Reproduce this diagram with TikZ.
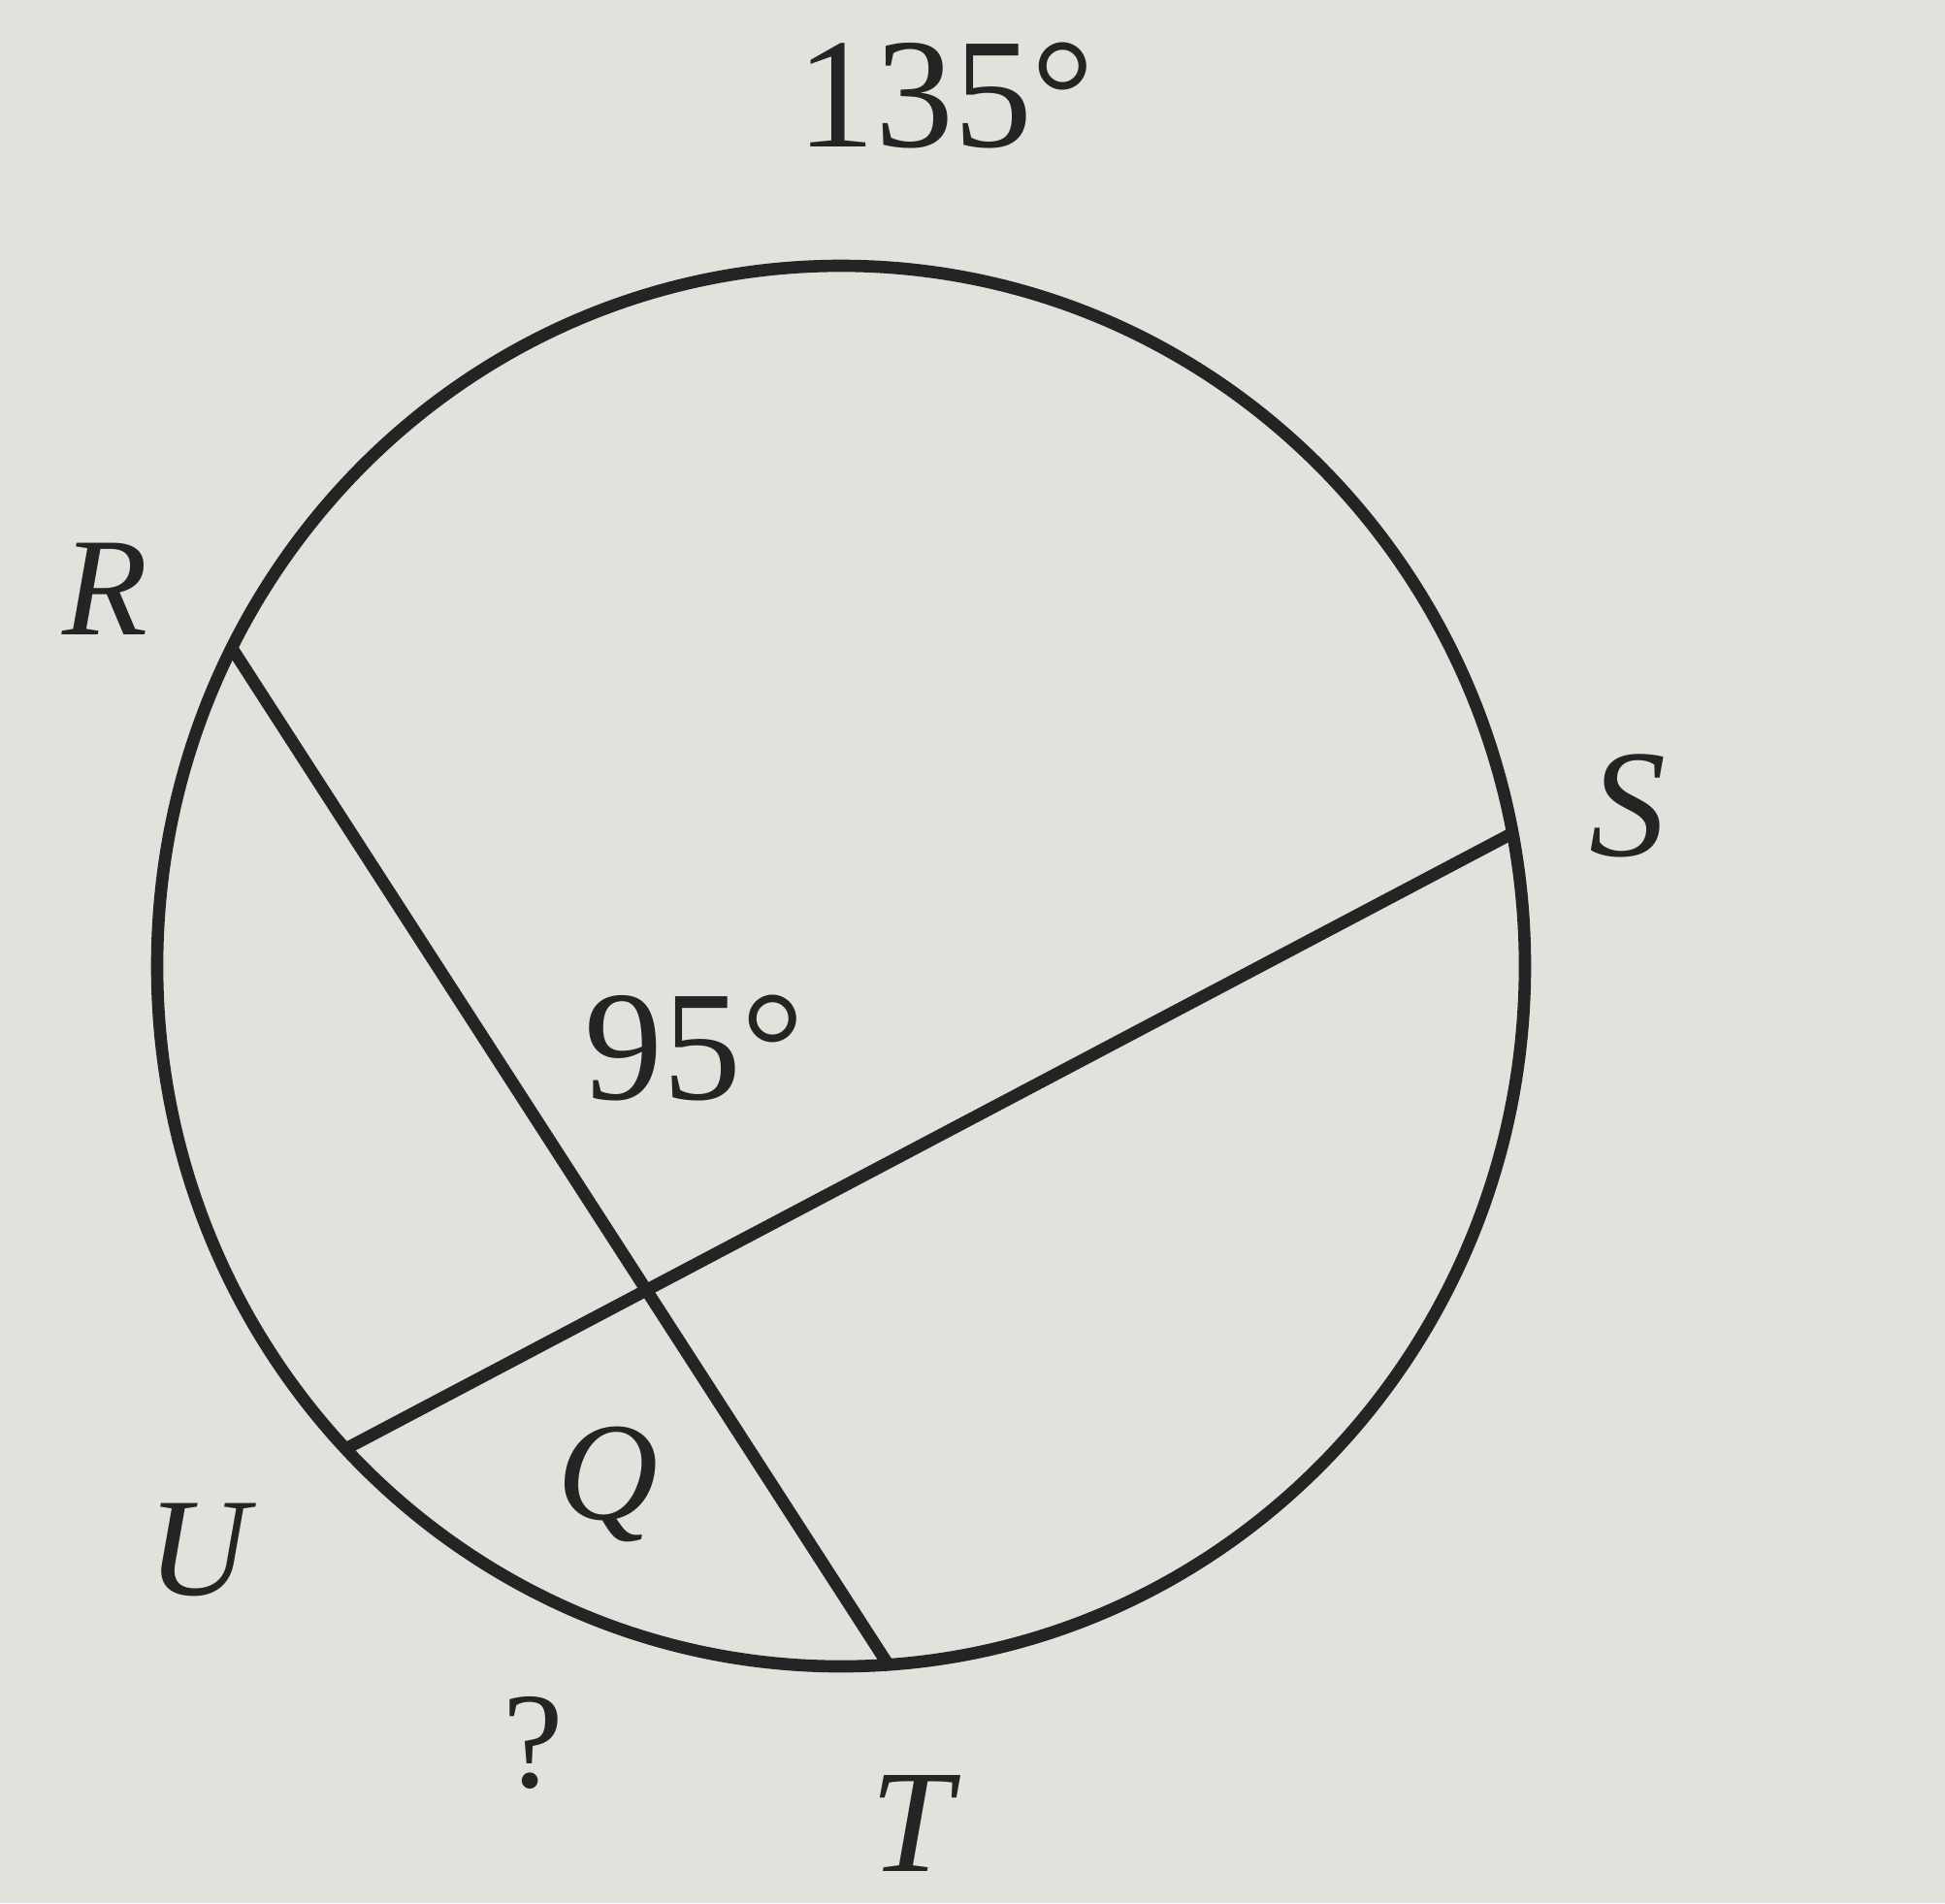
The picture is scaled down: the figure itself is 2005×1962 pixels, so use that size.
\documentclass[tikz,border=0pt]{standalone}
\usepackage{fontspec}
\setmainfont{Liberation Serif}
\usetikzlibrary{calc}
\definecolor{bg}{HTML}{E3E1DC}
\definecolor{ink}{HTML}{242424}
\begin{document}
\begin{tikzpicture}[x=0.01cm,y=-0.01cm,
  geo/.style={draw=ink,line width=3.6pt},
  lab/.style={text=ink,inner sep=0pt,font=\fontsize{41}{48}\selectfont\itshape},
  num/.style={text=ink,inner sep=0pt,font=\fontsize{46}{56}\selectfont}]
\fill[bg] (0,0) rectangle (2005,1962);
\useasboundingbox (0,0) rectangle (2005,1962);
\coordinate (C) at (867,996);
\draw[geo] (C) circle[x radius=705,y radius=722];
\coordinate (R) at (237,665);
\coordinate (S) at (1563,857);
\coordinate (U) at (352,1496);
\coordinate (T) at (918,1720);
\coordinate (X) at (intersection of R--T and U--S);
\draw[geo] (R) -- (T);
\draw[geo] (U) -- (S);
\node[num] (a135) at (975,98) {135°};
\node[num] (a95) at (716,1080) {95°};
\node[lab] (lR) at (109,607) {R};
\node[lab,font=\fontsize{45}{52}\selectfont\itshape] (lS) at (1678,831) {S};
\node[lab] (lU) at (205,1598) {U};
\node[lab] (lQ) at (627,1530) {Q};
\node[num,font=\fontsize{40}{48}\selectfont] (lq) at (550,1797) {?};
\node[lab,font=\fontsize{43}{50}\selectfont\itshape] (lT) at (940,1880) {T};
\end{tikzpicture}
\end{document}
